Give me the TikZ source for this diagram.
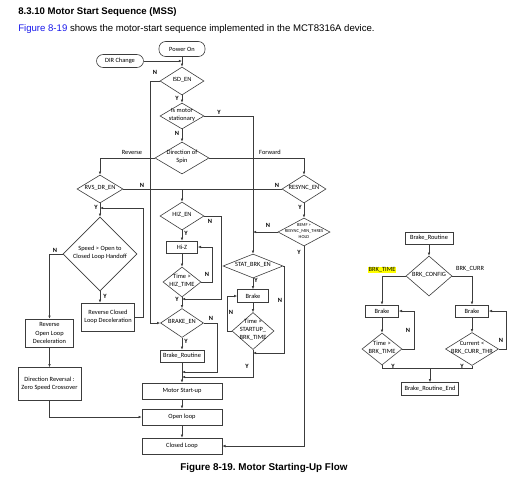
\documentclass[tikz,border=0pt]{standalone}
\usepackage{fontspec}
\setmainfont{Liberation Sans}
\newfontfamily\flowfont{Carlito}
\frenchspacing
\usetikzlibrary{arrows.meta}
\usetikzlibrary{shapes.geometric}
\tikzset{>={Latex[length=2.4pt,width=2pt]}}
\definecolor{linkblue}{RGB}{25,25,235}
\definecolor{flowgray}{RGB}{60,60,60}
\definecolor{markyellow}{RGB}{255,255,0}
\tikzstyle{flowline}=[draw=flowgray,line width=0.45pt]
\tikzstyle{process}=[rectangle,draw=flowgray,line width=0.45pt,inner sep=0pt,align=center,font=\flowfont\fontsize{4.8}{6.2}\selectfont]
\tikzstyle{terminal}=[process,rounded corners=5pt]
\tikzstyle{decision}=[diamond,draw=flowgray,line width=0.45pt,inner sep=0pt,font=\flowfont\fontsize{4.8}{6}\selectfont]
\tikzstyle{yn}=[inner sep=0pt,font=\flowfont\bfseries\fontsize{4.8}{6}\selectfont]
\tikzstyle{branch}=[inner sep=0pt,font=\flowfont\fontsize{4.8}{6}\selectfont]
\tikzset{dims/.style 2 args={minimum width=#1*0.75pt,minimum height=#2*0.75pt}}
\newcommand{\dtext}[1]{\smash{\makebox[0pt]{\raisebox{-0.15em}{\begin{tabular}{@{}c@{}}#1\end{tabular}}}}}

\begin{document}
\begin{tikzpicture}[x=0.75pt,y=-0.75pt]
  \useasboundingbox (0,0) rectangle (532,480);
  % heading
  \node[anchor=base west,inner sep=0pt,font=\bfseries\fontsize{7.2}{8}\selectfont] (title) at (18,14) {8.3.10 Motor Start Sequence (MSS)};
  \node[anchor=base west,inner sep=0pt,font=\fontsize{7.2}{8}\selectfont] (intro) at (18,31) {\textcolor{linkblue}{Figure 8-19} shows the motor-start sequence implemented in the MCT8316A device.};
  \node[anchor=base west,inner sep=0pt,font=\bfseries\fontsize{7.4}{8}\selectfont] (caption) at (180,470) {Figure 8-19. Motor Starting-Up Flow};

  % main column
  \node[terminal,dims={46}{15}] (poweron) at (182,49) {Power On};
  \node[terminal,dims={47}{13}] (dirchg) at (120,61) {DIR Change};
  \node[decision,dims={44}{28}] (isden) at (182,81) {\dtext{ISD\_EN}};
  \node[decision,dims={44}{26}] (stationary) at (182,116) {\dtext{Is motor\\stationary}};
  \node[decision,dims={54}{32}] (spin) at (182,158) {\dtext{Direction of\\Spin}};
  \node[decision,dims={46}{28}] (rvsdren) at (100,189) {\dtext{RVS\_DR\_EN}};
  \node[decision,dims={44}{28}] (resyncen) at (304,189) {\dtext{RESYNC\_EN}};
  \node[decision,dims={52}{28},font=\flowfont\fontsize{3.4}{4.4}\selectfont] (bemf) at (304,232) {\dtext{BEMF >\\RESYNC\_MIN\_THRES\\HOLD}};
  \node[decision,dims={74}{74}] (speed) at (100,254) {\dtext{Speed > Open to\\Closed Loop Handoff}};
  \node[decision,dims={44}{28}] (hizen) at (182,216) {\dtext{HIZ\_EN}};
  \node[process,dims={31}{12}] (hiz) at (182,247) {Hi-Z};
  \node[decision,dims={38}{30}] (hiztime) at (182,282) {\dtext{Time >\\HIZ\_TIME}};
  \node[decision,dims={43}{29}] (braken) at (182,323) {\dtext{BRAKE\_EN}};
  \node[process,dims={44}{12}] (brkroutine) at (182,356) {Brake\_Routine};
  \node[decision,dims={60}{24}] (statbrk) at (253,266) {\dtext{STAT\_BRK\_EN}};
  \node[process,dims={31}{13}] (brake1) at (253,296) {Brake};
  \node[decision,dims={42}{37}] (sbrktime) at (253,331) {\dtext{Time >\\STARTUP\_\\BRK\_TIME}};
  \node[process,dims={53}{28}] (rcld) at (108,317) {Reverse Closed\\Loop Deceleration};
  \node[process,dims={48}{28}] (rold) at (49.5,333) {Reverse\\Open Loop\\Deceleration};
  \node[process,dims={63}{33}] (dirrev) at (49.5,384) {Direction Reversal :\\Zero Speed Crossover};
  \node[process,dims={80}{16}] (startup) at (182,391) {Motor Start-up};
  \node[process,dims={80}{16}] (openloop) at (182,417) {Open loop};
  \node[process,dims={80}{16}] (closedloop) at (182,446) {Closed Loop};

  % brake routine
  \node[process,dims={48}{12}] (brkrtn) at (429,238) {Brake\_Routine};
  \node[decision,dims={46}{40}] (brkcfg) at (429,276) {\dtext{BRK\_CONFIG}};
  \node[process,dims={33}{12}] (brakeL) at (382,311) {Brake};
  \node[process,dims={33}{12}] (brakeR) at (472,311) {Brake};
  \node[decision,dims={40}{32}] (brktime) at (382,349) {\dtext{Time >\\BRK\_TIME}};
  \node[decision,dims={53}{33}] (brkcurr) at (472,349) {\dtext{Current <\\BRK\_CURR\_THR}};
  \node[process,dims={57}{13}] (brkend) at (430,389) {Brake\_Routine\_End};

  \coordinate (railA) at (150,0);
  \coordinate (rcldrail) at (143,208);
  \coordinate (hizrail) at (221,299);
  \coordinate (hiztrail) at (212,0);
  \coordinate (brkrail) at (217,372);
  \coordinate (statrail) at (284,353);
  \coordinate (sbrail) at (227,0);
  \coordinate (sbjoin) at (253,377);
  \coordinate (btrail) at (414,0);
  \coordinate (bcrail) at (506,0);
  \coordinate (ybus) at (430,368);

  \draw[flowline,->] (poweron.south) -- (isden.north);
  \draw[flowline,->] (dirchg.east) -- (dirchg.east -| poweron.south);
  \draw[flowline,->] (isden.south) -- (stationary.north);
  \draw[flowline,->] (isden.west) -| (railA |- braken.west) -- (braken.west);
  \draw[flowline,->] (stationary.south) -- (spin.north);
  \draw[flowline,->] (stationary.east) -| (statbrk.north);
  \draw[flowline,->] (spin.west) -| (rvsdren.north);
  \draw[flowline,->] (spin.east) -| (resyncen.north);
  \draw[flowline] (rvsdren.east) -- (resyncen.west);
  \draw[flowline,->] (hizen.north |- rvsdren.east) -- (hizen.north);
  \draw[flowline,->] (rvsdren.south) -- (speed.north);
  \draw[flowline,->] (speed.west) -| (rold.north);
  \draw[flowline,->] (speed.south) -- (speed.south |- rcld.north);
  \draw[flowline,->] (rcld.east) -| (rcldrail) -- (rcldrail -| speed.north);
  \draw[flowline,->] (rold.south) -- (dirrev.north);
  \draw[flowline,->] (dirrev.south) |- (openloop.west);
  \draw[flowline,->] (hizen.south) -- (hiz.north);
  \draw[flowline,->] (hizen.east) -| (hizrail) -- (hizrail -| hiztime.south);
  \draw[flowline,->] (hiz.south) -- (hiztime.north);
  \draw[flowline,->] (hiztime.east) -| (hiztrail |- hiz.east) -- (hiz.east);
  \draw[flowline,->] (hiztime.south) -- (braken.north);
  \draw[flowline,->] (braken.south) -- (brkroutine.north);
  \draw[flowline,->] (braken.east) -| (brkrail) -- (brkrail -| brkroutine.south);
  \draw[flowline,->] (brkroutine.south) -- (startup.north);
  \draw[flowline,->] (statbrk.south) -- (brake1.north);
  \draw[flowline,->] (statbrk.east) -| (statrail) -- (statrail -| sbrktime.south);
  \draw[flowline,->] (brake1.south) -- (sbrktime.north);
  \draw[flowline,->] (sbrktime.west) -| (sbrail |- brake1.west) -- (brake1.west);
  \draw[flowline,->] (sbrktime.south) -- (sbjoin) -- (sbjoin -| startup.north);
  \draw[flowline,->] (resyncen.south) -- (bemf.north);
  \draw[flowline,->] (bemf.west) -- (bemf.west -| statbrk.north);
  \draw[flowline,->] (bemf.south) |- (closedloop.east);
  \draw[flowline,->] (startup.south) -- (openloop.north);
  \draw[flowline,->] (openloop.south) -- (closedloop.north);

  \draw[flowline,->] (brkrtn.south) -- (brkcfg.north);
  \draw[flowline,->] (brkcfg.west) -| (brakeL.north);
  \draw[flowline,->] (brkcfg.east) -| (brakeR.north);
  \draw[flowline,->] (brakeL.south) -- (brktime.north);
  \draw[flowline,->] (brakeR.south) -- (brkcurr.north);
  \draw[flowline,->] (brktime.east) -| (btrail |- brakeL.east) -- (brakeL.east);
  \draw[flowline,->] (brkcurr.east) -| (bcrail |- brakeR.east) -- (brakeR.east);
  \draw[flowline] (brktime.south) -- (brktime.south |- ybus) -- (brkcurr.south |- ybus) -- (brkcurr.south);
  \draw[flowline,->] (ybus) -- (brkend.north);

  % branch labels
  \node[yn] (isdN) at (155,72) {N};
  \node[yn] (isdY) at (177,98) {Y};
  \node[yn] (statY) at (219,112) {Y};
  \node[yn] (statN) at (177,133) {N};
  \node[branch] (revlbl) at (132,152) {Reverse};
  \node[branch] (fwdlbl) at (270,152) {Forward};
  \node[yn] (rvsN) at (142,185) {N};
  \node[yn] (resN) at (277,185) {N};
  \node[yn] (rvsY) at (96,207) {Y};
  \node[yn] (speedN) at (55,250) {N};
  \node[yn] (speedY) at (105,296) {Y};
  \node[yn] (resY) at (300,207) {Y};
  \node[yn] (bemfN) at (268,225) {N};
  \node[yn] (bemfY) at (299,252) {Y};
  \node[yn] (hizenY) at (186,233) {Y};
  \node[yn] (hizenN) at (210,221) {N};
  \node[yn] (hiztN) at (207,274) {N};
  \node[yn] (hiztY) at (177,299) {Y};
  \node[yn] (brakenN) at (211,318) {N};
  \node[yn] (brakenY) at (186,341) {Y};
  \node[yn] (statbrkY) at (256,280) {Y};
  \node[yn] (statbrkN) at (280,300) {N};
  \node[yn] (sbN) at (231,312) {N};
  \node[yn] (sbY) at (247,366) {Y};
  \node[branch,fill=markyellow,inner sep=0.3pt] (brktimelbl) at (382,270) {BRK\_TIME};
  \node[branch] (brkcurrlbl) at (470,269) {BRK\_CURR};
  \node[yn] (btN) at (408,330) {N};
  \node[yn] (bcN) at (501,340) {N};
  \node[yn] (btY) at (393,366) {Y};
  \node[yn] (bcY) at (462,366) {Y};
\end{tikzpicture}
\end{document}
